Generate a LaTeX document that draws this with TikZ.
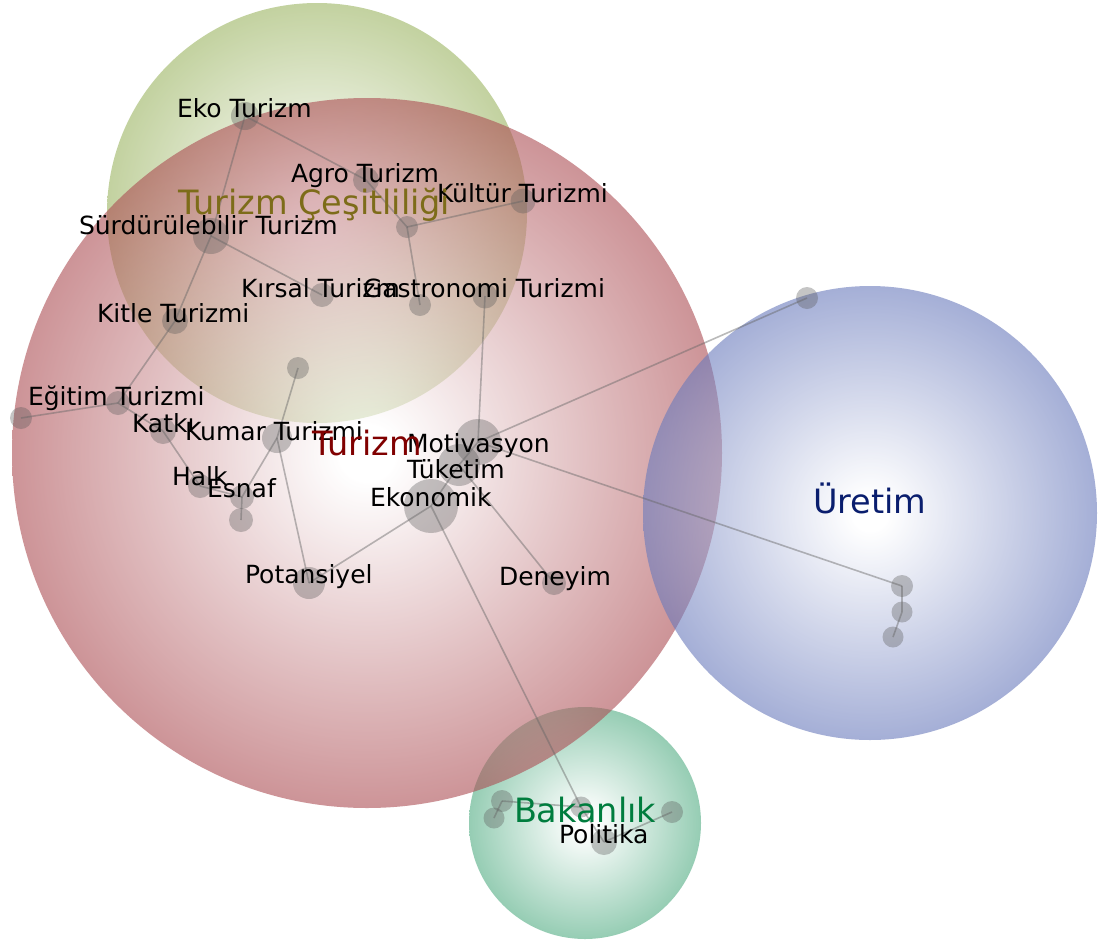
\documentclass[tikz,border=0pt]{standalone}
\usepackage{fontspec}
\setmainfont{DejaVu Sans}

% edge colours of the four topic bubbles
\definecolor{turizmedge}{RGB}{172,77,83}
\definecolor{cesitedge}{RGB}{155,180,97}
\definecolor{uretimedge}{RGB}{105,122,188}
\definecolor{bakanedge}{RGB}{80,172,130}
% title colours
\definecolor{turizmtext}{RGB}{128,0,0}
\definecolor{cesittext}{RGB}{125,108,25}
\definecolor{uretimtext}{RGB}{10,30,110}
\definecolor{bakantext}{RGB}{0,125,62}

% radial glows: the central 50bp square is fitted to the circle, so 25bp is the rim
\pgfdeclareradialshading{turizmglow}{\pgfpoint{0bp}{0bp}}{color(0bp)=(white); color(2bp)=(white); color(25bp)=(turizmedge); color(50bp)=(turizmedge)}
\pgfdeclareradialshading{cesitglow}{\pgfpoint{0bp}{0bp}}{color(0bp)=(white); color(2bp)=(white); color(25bp)=(cesitedge); color(50bp)=(cesitedge)}
\pgfdeclareradialshading{uretimglow}{\pgfpoint{0bp}{0bp}}{color(0bp)=(white); color(2bp)=(white); color(25bp)=(uretimedge); color(50bp)=(uretimedge)}
\pgfdeclareradialshading{bakanglow}{\pgfpoint{0bp}{0bp}}{color(0bp)=(white); color(2bp)=(white); color(25bp)=(bakanedge); color(50bp)=(bakanedge)}

\begin{document}
\begin{tikzpicture}[x=1pt,y=-1pt,
  bubble/.style={fill opacity=0.6},
  gdot/.style={circle, fill=black!65, fill opacity=0.35, draw=none, inner sep=0pt, outer sep=0pt},
  link/.style={draw=black!60, draw opacity=0.45, line width=1.6pt},
  lbl/.style={inner sep=0pt, outer sep=0pt, anchor=base west, text=black, font=\fontsize{25}{30}\selectfont},
  title/.style={inner sep=0pt, outer sep=0pt, anchor=base west, font=\fontsize{33.5}{40}\selectfont}]

\fill[white] (0,0) rectangle (1101,943);
\useasboundingbox (0,0) rectangle (1101,943);

% topic bubbles
\coordinate (cTurizm) at (367,453);
\coordinate (cCesit) at (317,213);
\coordinate (cUretim) at (870,513);
\coordinate (cBakan) at (585,823);
\shade[shading=cesitglow, bubble] (cCesit) circle[radius=210pt];
\shade[shading=bakanglow, bubble] (cBakan) circle[radius=116pt];
\shade[shading=turizmglow, bubble] (cTurizm) circle[radius=355pt];
\shade[shading=uretimglow, bubble] (cUretim) circle[radius=227pt];

% term nodes
\node[gdot, minimum size=28pt] (eko) at (245,116) {};
\node[gdot, minimum size=26pt] (agro) at (366,180) {};
\node[gdot, minimum size=25pt] (kultur) at (523,201) {};
\node[gdot, minimum size=22pt] (hub) at (407,227) {};
\node[gdot, minimum size=36pt] (surd) at (211,236) {};
\node[gdot, minimum size=24pt] (kirsal) at (322,295) {};
\node[gdot, minimum size=25pt] (gastro) at (485,296) {};
\node[gdot, minimum size=22pt] (hubB) at (420,305) {};
\node[gdot, minimum size=26pt] (kitle) at (175,321) {};
\node[gdot, minimum size=22pt] (kumarB) at (298,368) {};
\node[gdot, minimum size=24pt] (egitim) at (118,403) {};
\node[gdot, minimum size=22pt] (egitimB) at (21,418) {};
\node[gdot, minimum size=26pt] (katki) at (163,431) {};
\node[gdot, minimum size=30pt] (kumar) at (277,438) {};
\node[gdot, minimum size=24pt] (halk) at (200,486) {};
\node[gdot, minimum size=24pt] (esnaf) at (242,497) {};
\node[gdot, minimum size=24pt] (esnafB) at (241,520) {};
\node[gdot, minimum size=46pt] (motiv) at (478,442) {};
\node[gdot, minimum size=42pt] (tuketim) at (459,465) {};
\node[gdot, minimum size=54pt] (ekonomik) at (431,506) {};
\node[gdot, minimum size=32pt] (potansiyel) at (309,583) {};
\node[gdot, minimum size=24pt] (deneyim) at (554,583) {};
\node[gdot, minimum size=22pt] (uA) at (807,298) {};
\node[gdot, minimum size=22pt] (uB) at (902,586) {};
\node[gdot, minimum size=21pt] (uC) at (902,612) {};
\node[gdot, minimum size=21pt] (uD) at (893,637) {};
\node[gdot, minimum size=21pt] (bA) at (581,807) {};
\node[gdot, minimum size=22pt] (bB) at (502,801) {};
\node[gdot, minimum size=21pt] (bC) at (494,818) {};
\node[gdot, minimum size=26pt] (politika) at (604,842) {};
\node[gdot, minimum size=22pt] (bD) at (672,812) {};

% links
\foreach \a/\b in {eko/surd, eko/agro, agro/hub, hub/kultur, hub/hubB,
    surd/kirsal, surd/kitle, kitle/egitim, egitim/egitimB, egitim/katki,
    katki/halk, halk/esnaf, esnaf/esnafB, esnaf/kumar, kumar/kumarB,
    kumar/potansiyel, potansiyel/ekonomik, ekonomik/tuketim, tuketim/motiv,
    motiv/gastro, motiv/uA, motiv/uB, tuketim/deneyim, uB/uC, uC/uD,
    ekonomik/bA, bA/bB, bB/bC, bA/politika, politika/bD}
  \draw[link] (\a.center) -- (\b.center);

% term labels
\node[lbl] (ekoL) at (177,117) {Eko Turizm};
\node[lbl] (agroL) at (291,182) {Agro Turizm};
\node[lbl] (kulturL) at (437,202) {Kültür Turizmi};
\node[lbl] (surdL) at (79,234) {Sürdürülebilir Turizm};
\node[lbl] (kirsalL) at (241,297) {Kırsal Turizm};
\node[lbl] (gastroL) at (363,297) {Gastronomi Turizmi};
\node[lbl] (kitleL) at (97,322) {Kitle Turizmi};
\node[lbl] (egitimL) at (28,405) {Eğitim Turizmi};
\node[lbl] (katkiL) at (132,432) {Katkı};
\node[lbl] (kumarL) at (185,440) {Kumar Turizmi};
\node[lbl] (halkL) at (172,485) {Halk};
\node[lbl] (esnafL) at (207,497) {Esnaf};
\node[lbl] (motivL) at (407,452) {Motivasyon};
\node[lbl] (tuketimL) at (407,478) {Tüketim};
\node[lbl] (ekonomikL) at (370,506) {Ekonomik};
\node[lbl] (potansiyelL) at (245,583) {Potansiyel};
\node[lbl] (deneyimL) at (499,585) {Deneyim};
\node[lbl] (politikaL) at (559,843) {Politika};

% topic titles
\node[title, text=cesittext] (cesitT) at (178,214) {Turizm Çeşitliliği};
\node[title, text=turizmtext] (turizmT) at (312,455) {Turizm};
\node[title, text=uretimtext] (uretimT) at (813,513) {Üretim};
\node[title, text=bakantext] (bakanT) at (514,822) {Bakanlık};
\end{tikzpicture}
\end{document}
